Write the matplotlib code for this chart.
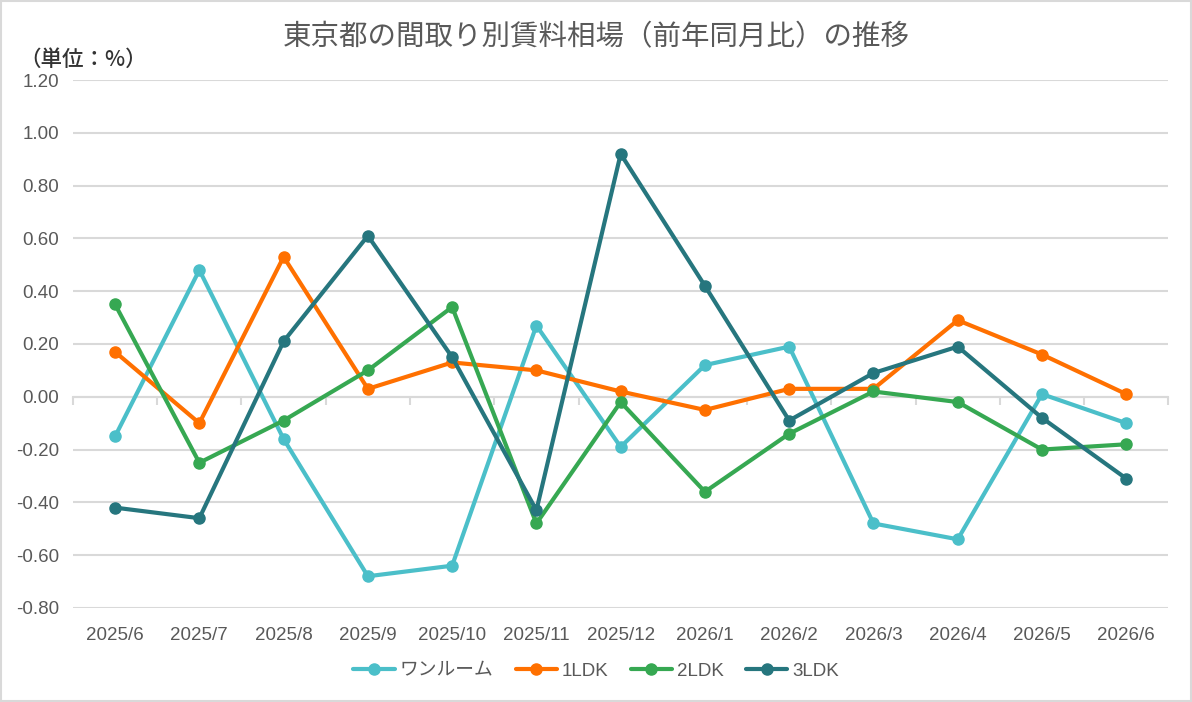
import matplotlib
matplotlib.use("Agg")
import matplotlib.pyplot as plt
from matplotlib.patches import Rectangle

plt.rcParams['font.family'] = ['Liberation Sans', 'Noto Sans CJK JP', 'DejaVu Sans']

# data (前年同月比, %)
months = ["2025/6", "2025/7", "2025/8", "2025/9", "2025/10", "2025/11", "2025/12",
          "2026/1", "2026/2", "2026/3", "2026/4", "2026/5", "2026/6"]
oneroom = [-0.15, 0.48, -0.16, -0.68, -0.64, 0.27, -0.19, 0.12, 0.19, -0.48, -0.54, 0.01, -0.10]
ldk1 = [0.17, -0.10, 0.53, 0.03, 0.13, 0.10, 0.02, -0.05, 0.03, 0.03, 0.29, 0.16, 0.01]
ldk2 = [0.35, -0.25, -0.09, 0.10, 0.34, -0.48, -0.02, -0.36, -0.14, 0.02, -0.02, -0.20, -0.18]
ldk3 = [-0.42, -0.46, 0.21, 0.61, 0.15, -0.43, 0.92, 0.42, -0.09, 0.09, 0.19, -0.08, -0.31]
series_names = ["ワンルーム", "1LDK", "2LDK", "3LDK"]
colors = ["#4BBFC9", "#FF7000", "#36A852", "#26767E"]
yticks = [1.20, 1.00, 0.80, 0.60, 0.40, 0.20, 0.00, -0.20, -0.40, -0.60, -0.80]

fig = plt.figure(figsize=(11.92, 7.02), dpi=100)
ax = fig.add_axes([0.0612, 0.134, 0.919, 0.752])

x = list(range(len(months)))
for vals, name, col in zip([oneroom, ldk1, ldk2, ldk3], series_names, colors):
    ax.plot(x, vals, color=col, lw=3.0, marker="o", markersize=8,
            solid_capstyle="round", solid_joinstyle="round", label=name, zorder=3)

ax.set_xlim(-0.5, len(months) - 0.5)
ax.set_ylim(-0.8, 1.2)
ax.set_yticks(yticks)
ax.set_yticklabels(["%.2f" % v for v in yticks])
ax.set_xticks(x)
ax.set_xticklabels(months)
ax.tick_params(axis="both", length=0, labelsize=13.5, colors="#595959")
ax.tick_params(axis="x", pad=14)
ax.tick_params(axis="y", pad=10)
ax.grid(axis="y", color="#D9D9D9", lw=1.5, zorder=0)
for s in ax.spines.values():
    s.set_visible(False)

# horizontal axis line at 0 with tick marks between categories
sec = ax.secondary_xaxis(0.4)
sec.set_xticks([i - 0.5 for i in range(len(months) + 1)])
sec.set_xticklabels([])
sec.tick_params(length=6, width=1.5, color="#D9D9D9", direction="out")
sec.spines["bottom"].set_color("#D9D9D9")
sec.spines["bottom"].set_linewidth(1.5)
for s in ["top", "left", "right"]:
    if s in sec.spines:
        sec.spines[s].set_visible(False)

fig.text(0.5, 0.947, "東京都の間取り別賃料相場（前年同月比）の推移", ha="center", va="center",
         fontsize=20.5, color="#595959", family=['Noto Sans CJK JP', 'DejaVu Sans'])
fig.text(0.016, 0.915, "（単位：%）", ha="left", va="center", fontsize=15.5, color="#333333",
         fontweight="medium", family=['Noto Sans CJK JP', 'DejaVu Sans'])

leg = ax.legend(loc="center", bbox_to_anchor=(0.5, 0.044), bbox_transform=fig.transFigure,
                ncol=4, frameon=False, fontsize=13.5, handlelength=2.2, columnspacing=1.2,
                handletextpad=0.25)
for t in leg.get_texts():
    t.set_color("#595959")

fig.patches.append(Rectangle((0.001, 0.001), 0.998, 0.998, transform=fig.transFigure,
                             fill=False, edgecolor="#D9D9D9", lw=1.5))

fig.savefig("out.png", dpi=100)
